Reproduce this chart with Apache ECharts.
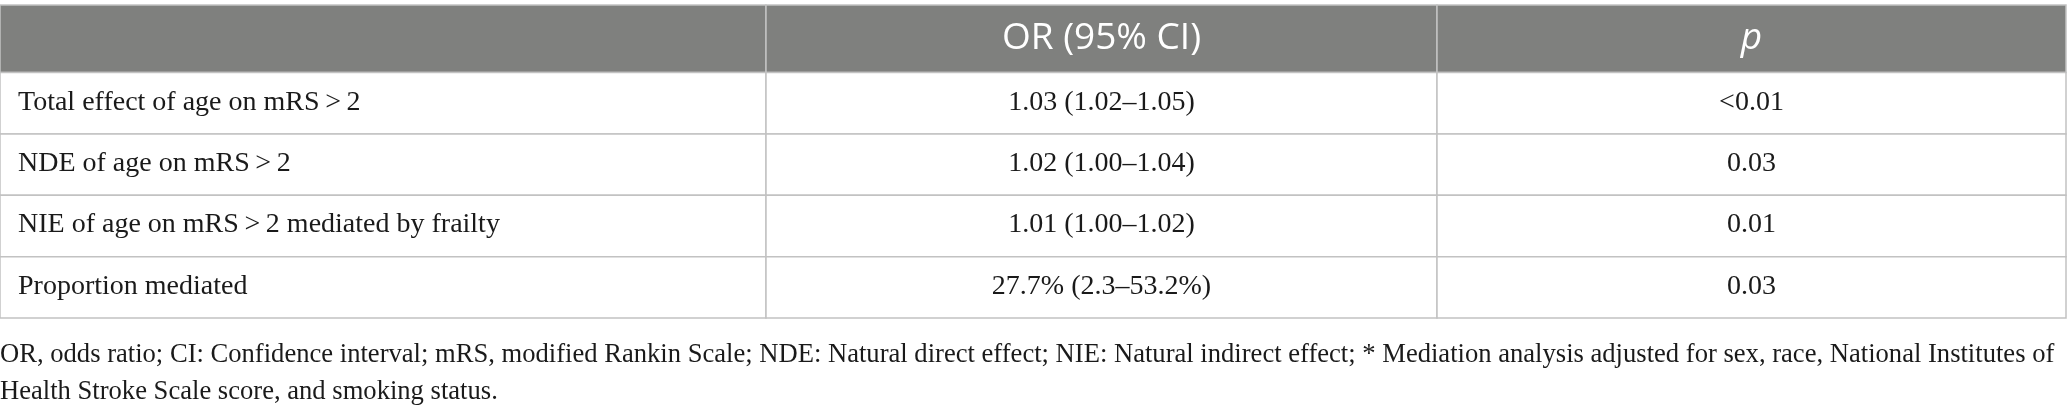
<!DOCTYPE html>
<html>
<head>
<meta charset="utf-8">
<script src="https://cdn.jsdelivr.net/npm/echarts@6/dist/echarts.min.js"></script>
<style>
    html, body { margin: 0; padding: 0; background: #ffffff; }
    #main { width: 2067px; height: 408px; }
</style>
</head>
<body>
<div id="main"></div>
<script>
// table content
var headers = ['', 'OR (95% CI)', 'p'];
var rowLabels = [
    'Total effect of age on mRS\u2009>\u20092',
    'NDE of age on mRS\u2009>\u20092',
    'NIE of age on mRS\u2009>\u20092 mediated by frailty',
    'Proportion mediated'
];
var orValues = ['1.03 (1.02\u20131.05)', '1.02 (1.00\u20131.04)', '1.01 (1.00\u20131.02)', '27.7% (2.3\u201353.2%)'];
var pValues = ['<0.01', '0.03', '0.01', '0.03'];
var footnoteLines = [
    'OR, odds ratio; CI: Confidence interval; mRS, modified Rankin Scale; NDE: Natural direct effect; NIE: Natural indirect effect; * Mediation analysis adjusted for sex, race, National Institutes of',
    'Health Stroke Scale score, and smoking status.'
];

// column widths (layout), x axis runs over their sum
var colWidths = [766, 671, 629];
var colEdges = [0];
colWidths.forEach(function (w, i) { colEdges.push(colEdges[i] + w); });

var serif = "'Liberation Serif', 'DejaVu Serif', serif";
var sans = "'Open Sans', 'Noto Sans', sans-serif";
var lineColor = '#c2c2c2';

var myChart;

function cellRenderer(isHeader)
{
    return function (params, api) {
        var col = api.value(0);
        var row = api.value(1);
        var text = api.value(2);
        var left = api.coord([colEdges[col], row]);
        var right = api.coord([colEdges[col + 1], row]);
        var h = api.size([0, 1])[1];
        var x0 = left[0], x1 = right[0];
        var yc = left[1];
        var rect = {
            type: 'rect',
            shape: { x: x0, y: yc - h / 2, width: x1 - x0, height: h },
            style: { fill: isHeader ? '#7f807e' : '#ffffff', stroke: lineColor, lineWidth: 1.5 }
        };
        var leftAlign = !isHeader && col === 0;
        var label = {
            type: 'text',
            x: leftAlign ? x0 + 18 : (x0 + x1) / 2,
            y: yc + (isHeader ? 0 : -1),
            style: {
                text: text,
                fill: isHeader ? '#ffffff' : '#1a1a1a',
                font: isHeader
                    ? ((col === 2 ? 'italic ' : '') + '37px ' + sans)
                    : ('28px ' + serif),
                textAlign: leftAlign ? 'left' : 'center',
                textVerticalAlign: 'middle'
            }
        };
        return { type: 'group', children: [rect, label] };
    };
}

document.addEventListener("DOMContentLoaded", function()
{
    myChart = echarts.init(document.getElementById('main'), null, { renderer: 'canvas' });

    var headerData = headers.map(function (t, c) { return [c, 0, t]; });
    var bodyData = [];
    rowLabels.forEach(function (label, r) {
        bodyData.push([0, r, label]);
        bodyData.push([1, r, orValues[r]]);
        bodyData.push([2, r, pValues[r]]);
    });

    var option = {
        animation: false,
        backgroundColor: '#ffffff',
        title: {
            left: 0,
            top: 337,
            text: footnoteLines.join('\n'),
            textStyle: {
                fontFamily: serif,
                fontWeight: 'normal',
                fontSize: 26.6,
                lineHeight: 37,
                color: '#1a1a1a'
            },
            padding: 0
        },
        grid: [
            { left: 0, right: 1, top: 5, height: 67.5 },
            { left: 0, right: 1, top: 72.5, height: 245.5 }
        ],
        xAxis: [
            { gridIndex: 0, type: 'value', min: 0, max: colEdges[3], show: false },
            { gridIndex: 1, type: 'value', min: 0, max: colEdges[3], show: false }
        ],
        yAxis: [
            { gridIndex: 0, type: 'category', data: ['header'], inverse: true, show: false },
            { gridIndex: 1, type: 'category', data: rowLabels, inverse: true, show: false }
        ],
        series: [
            {
                type: 'custom',
                xAxisIndex: 0,
                yAxisIndex: 0,
                renderItem: cellRenderer(true),
                data: headerData
            },
            {
                type: 'custom',
                xAxisIndex: 1,
                yAxisIndex: 1,
                renderItem: cellRenderer(false),
                data: bodyData
            }
        ]
    };

    myChart.setOption(option);
    window.addEventListener('resize', myChart.resize);
});
</script>
</body>
</html>
